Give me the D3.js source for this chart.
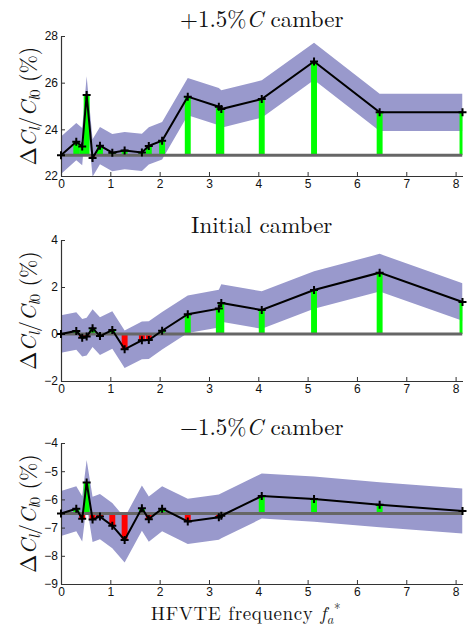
<!DOCTYPE html>
<html><head><meta charset="utf-8">
<script src="https://cdn.jsdelivr.net/npm/d3@7"></script>
<style>body{margin:0;background:#fff}svg{display:block}</style>
</head><body><svg id="c" width="470" height="630"></svg>
<script>
// HFVTE frequencies (shared by all three panels)
const freq = [0, 0.31, 0.43, 0.52, 0.64, 0.79, 1.04, 1.29, 1.64, 1.78, 2.05, 2.57, 3.20, 3.25, 4.07, 5.13, 6.46, 8.14];
// Delta Cl / Cl0 (%) for each camber case
const plusCamber  = [22.89, 23.47, 23.26, 25.47, 22.77, 23.30, 23.00, 23.09, 23.01, 23.29, 23.51, 25.40, 24.97, 24.87, 25.30, 26.91, 24.73, 24.73];
const initCamber  = [0.00, 0.13, -0.16, -0.11, 0.25, -0.09, 0.17, -0.65, -0.27, -0.26, 0.14, 0.84, 1.08, 1.32, 1.02, 1.87, 2.61, 1.36];
const minusCamber = [-6.50, -6.33, -6.69, -5.40, -6.71, -6.61, -6.93, -7.44, -6.31, -6.70, -6.33, -6.78, -6.63, -6.58, -5.88, -5.99, -6.19, -6.41];
// uncertainty half-widths (shaded band)
const plusErr  = [0.8, 0.8, 0.8, 0.8, 0.8, 0.8, 0.8, 0.8, 0.8, 0.8, 0.8, 0.8, 0.8, 0.8, 0.8, 0.8, 0.8, 0.8];
const initErr  = [0.8, 0.8, 0.8, 0.8, 0.8, 0.8, 0.8, 0.8, 0.8, 0.8, 0.8, 0.8, 0.8, 0.8, 0.8, 0.8, 0.8, 0.8];
const minusErr = [0.8, 0.8, 0.8, 0.8, 0.8, 0.8, 0.8, 0.8, 0.8, 0.8, 0.8, 0.8, 0.8, 0.8, 0.8, 0.8, 0.8, 0.8];
// axis tick values
const xTicks = [0, 1, 2, 3, 4, 5, 6, 7, 8];
const plusTicks  = [22, 24, 26, 28];
const initTicks  = [-2, 0, 2, 4];
const minusTicks = [-9, -8, -7, -6, -5, -4];
const plusDomain = [22, 28], initDomain = [-2, 4], minusDomain = [-9, -4];
const barWidth = 0.12; // in frequency units

const svg = d3.select("#c");
const L = 61, R = 462.5;
const x = d3.scaleLinear().domain([0, d3.max(freq)]).range([L, R]);
const serif = "'Latin Modern Roman','CMU Serif','Liberation Serif','DejaVu Serif',serif";

function panel(idx, top, bottom, vals, errs, domain, ticks, titleParts, titleY) {
  const y = d3.scaleLinear().domain(domain).range([bottom, top]);
  const g = svg.append("g");
  const cid = "clip" + idx;
  svg.append("clipPath").attr("id", cid).append("rect")
    .attr("x", L).attr("y", top).attr("width", R - L).attr("height", bottom - top);
  const data = freq.map((f, i) => ({ f, v: vals[i], e: errs[i] }));
  const base = vals[0];
  const pg = g.append("g").attr("clip-path", `url(#${cid})`);
  // band
  pg.append("path").datum(data)
    .attr("d", d3.area().x(d => x(d.f)).y0(d => y(d.v - d.e)).y1(d => y(d.v + d.e)))
    .attr("fill", "#9999cc");
  // bars
  const bw = x(barWidth) - x(0);
  pg.selectAll("rect.bar").data(data).join("rect")
    .attr("x", d => x(d.f) - bw / 2)
    .attr("width", bw)
    .attr("y", d => Math.min(y(d.v), y(base)))
    .attr("height", d => Math.abs(y(d.v) - y(base)))
    .attr("fill", d => d.v >= base ? "#00ff00" : "#ff0000");
  // baseline
  pg.append("line").attr("x1", x(0)).attr("x2", x(d3.max(freq)))
    .attr("y1", y(base)).attr("y2", y(base))
    .attr("stroke", "#666").attr("stroke-width", 3);
  // axes
  const xa = g.append("g").attr("transform", `translate(0,${bottom})`)
    .call(d3.axisBottom(x).tickValues(xTicks).tickSize(-4).tickSizeOuter(0).tickPadding(3).tickFormat(d3.format("d")));
  const ya = g.append("g").attr("transform", `translate(${L},0)`)
    .call(d3.axisLeft(y).tickValues(ticks).tickSize(-4).tickSizeOuter(0).tickPadding(3).tickFormat(d => d < 0 ? "\u2212" + Math.abs(d) : d));
  [xa, ya].forEach(a => {
    a.select(".domain").attr("stroke", "#333").attr("stroke-width", 1.2);
    a.selectAll(".tick line").attr("stroke", "#333");
    a.selectAll("text").attr("font-family", "'Liberation Sans',Arial,sans-serif").attr("font-size", 12).attr("fill", "#111");
  });
  // line
  g.append("path").datum(data)
    .attr("d", d3.line().x(d => x(d.f)).y(d => y(d.v)))
    .attr("fill", "none").attr("stroke", "#000").attr("stroke-width", 2);
  // markers
  g.selectAll("path.mk").data(data).join("path").attr("class", "mk")
    .attr("transform", d => `translate(${x(d.f)},${y(d.v)})`)
    .attr("d", "M-4,0H4M0,-4V4").attr("stroke", "#000").attr("stroke-width", 2);
  // title
  const t = svg.append("text").attr("x", (L + R) / 2).attr("y", titleY)
    .attr("text-anchor", "middle").attr("font-family", serif).attr("font-size", 23).attr("fill", "#111");
  titleParts.forEach(p => t.append("tspan").attr("font-style", p[1] ? "italic" : null).text(p[0]));
  // y label
  const yl = svg.append("text")
    .attr("transform", `translate(36,${(top + bottom) / 2}) rotate(-90)`)
    .attr("text-anchor", "middle").attr("font-family", serif).attr("font-size", 22).attr("fill", "#111");
  yl.append("tspan").text("\u0394");
  yl.append("tspan").attr("font-style", "italic").text("C");
  yl.append("tspan").attr("font-style", "italic").attr("font-size", 15).attr("dy", 4).text("l");
  yl.append("tspan").attr("dy", -4).text("/");
  yl.append("tspan").attr("font-style", "italic").text("C");
  yl.append("tspan").attr("font-style", "italic").attr("font-size", 15).attr("dy", 4).text("l");
  yl.append("tspan").attr("font-size", 15).text("0");
  yl.append("tspan").attr("dy", -4).text(" (%)");
}

panel(1, 36, 176, plusCamber, plusErr, plusDomain, plusTicks, [["+1.5%", false], ["C", true], [" camber", false]], 27);
panel(2, 240, 381, initCamber, initErr, initDomain, initTicks, [["Initial camber", false]], 233);
panel(3, 443, 584, minusCamber, minusErr, minusDomain, minusTicks, [["\u22121.5%", false], ["C", true], [" camber", false]], 435);

// x label
const xl = svg.append("text").attr("x", 246).attr("y", 620).attr("text-anchor", "middle")
  .attr("font-family", serif).attr("font-size", 19).attr("letter-spacing", 0.6).attr("fill", "#111");
xl.append("tspan").text("HFVTE frequency ");
xl.append("tspan").attr("font-style", "italic").text("f");
xl.append("tspan").attr("font-style", "italic").attr("font-size", 13).attr("dy", 4).text("a");
xl.append("tspan").attr("font-size", 13).attr("dx", 0).attr("dy", -11).text("*");
</script></body></html>
